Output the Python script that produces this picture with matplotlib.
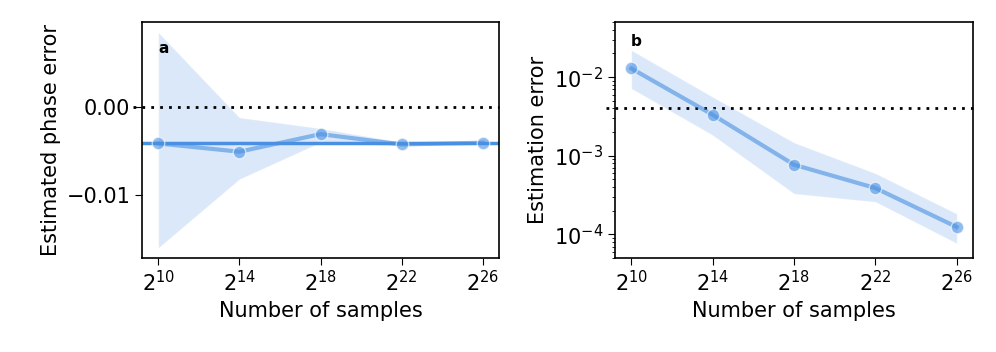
import numpy as np
import matplotlib
matplotlib.use("Agg")
import matplotlib.pyplot as plt

# sample counts (log2)
exponents = [10, 14, 18, 22, 26]
tick_labels = ["$2^{10}$", "$2^{14}$", "$2^{18}$", "$2^{22}$", "$2^{26}$"]

# panel a: estimated phase error
phase_mean = [-0.00413, -0.00507, -0.00307, -0.00424, -0.00405]
phase_low = [-0.0160, -0.00818, -0.0040, -0.0044, -0.00412]
phase_high = [0.0085, -0.00118, -0.00242, -0.0040, -0.0040]
phase_ref = -0.00413

# panel b: estimation error
err_mean = [0.0129, 0.00332, 0.000769, 0.000388, 0.000124]
err_low = [0.00718, 0.00183, 0.00033, 0.00026, 0.000077]
err_high = [0.022, 0.0056, 0.00147, 0.000597, 0.000183]
err_ref = 0.00407

LINE_C = "#4a90e2"
FONT = 15

plt.rcParams["font.size"] = FONT
fig = plt.figure(figsize=(9.96, 3.52), dpi=100)
ax1 = fig.add_axes([0.1426, 0.267, 0.3584, 0.670])
ax2 = fig.add_axes([0.6175, 0.267, 0.3594, 0.670])

x = [2.0 ** e for e in exponents]

# panel a
ax1.fill_between(x, phase_low, phase_high, color=LINE_C, alpha=0.2, lw=1, edgecolor="white")
ax1.axhline(phase_ref, color=LINE_C, lw=2.5, zorder=2)
ax1.plot(x, phase_mean, color=LINE_C, alpha=0.6, lw=3, marker="o", ms=9,
         mec="white", mew=1, zorder=3)
ax1.axhline(0.0, color="black", ls=(0, (1, 2.2)), lw=2, xmin=-0.025, clip_on=False)
ax1.set_xscale("log", base=2)
ax1.set_xlim(2 ** 9.2, 2 ** 26.8)
ax1.set_ylim(-0.01716, 0.00966)
ax1.set_yticks([0.0, -0.01])
ax1.set_yticklabels(["0.00", "\u22120.01"])
ax1.set_ylabel("Estimated phase error")
ax1.text(0.06, 0.89, "a", transform=ax1.transAxes, fontsize=11, fontweight="bold",
         ha="center", va="center")

# panel b
ax2.fill_between(x, err_low, err_high, color=LINE_C, alpha=0.2, lw=1, edgecolor="white")
ax2.plot(x, err_mean, color=LINE_C, alpha=0.6, lw=3, marker="o", ms=9,
         mec="white", mew=1, zorder=3)
ax2.axhline(err_ref, color="black", ls=(0, (1, 2.2)), lw=2, xmin=-0.025, clip_on=False)
ax2.set_xscale("log", base=2)
ax2.set_yscale("log")
ax2.set_xlim(2 ** 9.2, 2 ** 26.8)
ax2.set_ylim(5e-5, 0.05)
ax2.set_ylabel("Estimation error")
ax2.text(0.06, 0.92, "b", transform=ax2.transAxes, fontsize=11, fontweight="bold",
         ha="center", va="center")

for ax in (ax1, ax2):
    ax.set_xticks(x)
    ax.set_xticklabels(tick_labels)
    ax.xaxis.set_minor_locator(matplotlib.ticker.NullLocator())
    ax.set_xlabel("Number of samples")
    ax.tick_params(which="major", length=5)
    for s in ax.spines.values():
        s.set_linewidth(1.2)

fig.savefig("out.png", dpi=100)
